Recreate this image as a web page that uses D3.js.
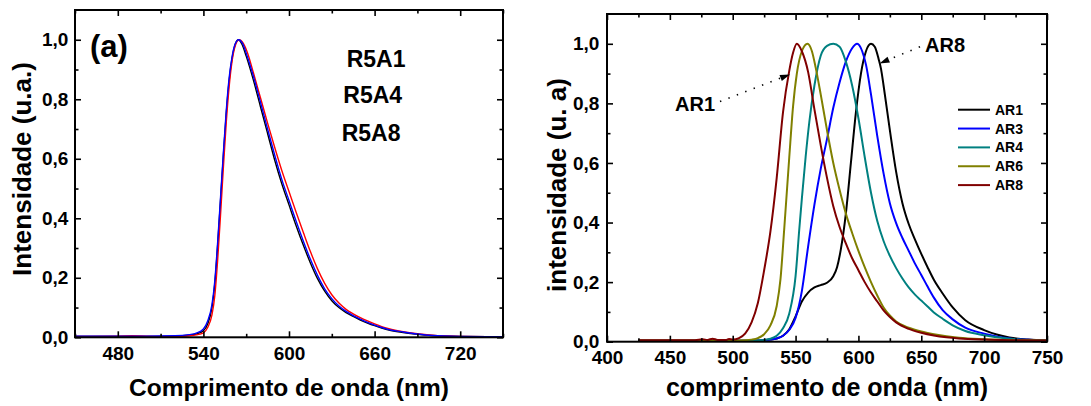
<!DOCTYPE html>
<html>
<head>
<meta charset="utf-8">
<script src="https://cdn.jsdelivr.net/npm/d3@7"></script>
<style>
  html, body { margin: 0; padding: 0; background: #fff; }
  svg { display: block; }
  text { font-family: "Liberation Sans", Arial, sans-serif; font-weight: bold; fill: #000; }
</style>
</head>
<body>
<svg id="chart" width="1091" height="406"></svg>
<script>
// ---------- Panel (a): normalised emission of the R5 samples ----------
const leftSeriesNames = ["R5A1", "R5A4", "R5A8"];
const leftColors = ["#000000", "#ff0000", "#0000ff"]; // black, red, blue (draw order)

const r5a1 = [[450,0.003],[480,0.003],[500,0.003],[520,0.004],[530,0.007],[535,0.011],[540,0.022],[543,0.045],[546,0.1],[548,0.18],[550,0.31],[552,0.46],[554,0.61],[556,0.75],[558,0.86],[560,0.935],[562,0.98],[564.5,1.0],[567,0.985],[570,0.945],[575,0.865],[580,0.775],[585,0.685],[590,0.595],[595,0.515],[600,0.445],[605,0.375],[610,0.31],[615,0.25],[620,0.197],[625,0.155],[630,0.123],[635,0.1],[640,0.083],[645,0.07],[650,0.058],[655,0.048],[660,0.039],[665,0.031],[670,0.024],[680,0.016],[690,0.01],[700,0.006],[720,0.003],[750,0.002]];
const r5a4 = [[450,0.004],[480,0.004],[500,0.004],[520,0.005],[530,0.009],[535,0.014],[540,0.028],[543,0.055],[546,0.11],[548,0.19],[550,0.32],[552,0.47],[554,0.62],[556,0.76],[558,0.87],[560,0.94],[562,0.982],[564.7,1.0],[567.5,0.987],[570,0.955],[575,0.878],[580,0.79],[585,0.7],[590,0.612],[595,0.53],[600,0.46],[605,0.39],[610,0.324],[615,0.262],[620,0.208],[625,0.163],[630,0.13],[635,0.105],[640,0.087],[645,0.073],[650,0.061],[655,0.05],[660,0.041],[665,0.033],[670,0.026],[680,0.018],[690,0.011],[700,0.006],[720,0.003],[750,0.002]];
const r5a8 = [[450,0.003],[480,0.004],[490,0.005],[500,0.004],[520,0.003],[530,0.005],[535,0.008],[540,0.015],[543,0.033],[546,0.075],[548,0.14],[550,0.26],[552,0.41],[554,0.57],[556,0.72],[558,0.84],[560,0.925],[562,0.975],[565,1.0],[568,0.988],[571,0.955],[575,0.89],[580,0.805],[585,0.72],[590,0.638],[595,0.56],[600,0.49],[605,0.42],[610,0.353],[615,0.288],[620,0.23],[625,0.181],[630,0.143],[635,0.115],[640,0.094],[645,0.079],[650,0.066],[655,0.055],[660,0.045],[665,0.036],[670,0.029],[680,0.019],[690,0.012],[700,0.007],[720,0.003],[750,0.002]];

const leftXMajor = [480, 540, 600, 660, 720];
const leftXMinor = [450, 510, 570, 630, 690, 750];
const yMajor = [0, 0.2, 0.4, 0.6, 0.8, 1.0];
const yMinor = [0.1, 0.3, 0.5, 0.7, 0.9];

// ---------- Panel (b): normalised emission of the AR samples ----------
const rightSeriesNames = ["AR1", "AR3", "AR4", "AR6", "AR8"];
const rightColors = ["#000000", "#0000ff", "#008080", "#808000", "#800000"];

const ar1 = [[425,0.003],[510,0.003],[520,0.004],[530,0.007],[535,0.011],[540,0.02],[545,0.042],[550,0.085],[555,0.135],[560,0.165],[565,0.182],[570,0.19],[575,0.198],[580,0.22],[583,0.25],[586,0.31],[590,0.43],[594,0.6],[598,0.77],[602,0.9],[606,0.975],[610,1.0],[613,0.99],[616,0.95],[618,0.915],[620,0.86],[625,0.71],[630,0.57],[635,0.465],[640,0.395],[645,0.343],[650,0.295],[655,0.25],[660,0.208],[667,0.162],[675,0.115],[685,0.072],[700,0.039],[710,0.024],[720,0.014],[735,0.007],[750,0.004]];
const ar3 = [[425,0.003],[510,0.003],[520,0.004],[530,0.007],[535,0.011],[540,0.02],[545,0.04],[550,0.08],[555,0.17],[560,0.32],[565,0.46],[570,0.58],[575,0.68],[580,0.785],[585,0.87],[590,0.94],[595,0.985],[599,1.0],[603,0.975],[606,0.93],[610,0.83],[615,0.69],[620,0.565],[625,0.465],[630,0.398],[635,0.348],[640,0.305],[645,0.262],[650,0.224],[655,0.185],[660,0.148],[667,0.106],[675,0.075],[685,0.047],[700,0.027],[720,0.011],[750,0.004]];
const ar4 = [[425,0.003],[510,0.003],[520,0.004],[525,0.006],[530,0.01],[535,0.02],[540,0.045],[545,0.095],[550,0.22],[553,0.38],[555,0.48],[558,0.62],[561,0.74],[565,0.86],[570,0.96],[575,0.993],[580,1.0],[585,0.99],[590,0.94],[595,0.86],[600,0.75],[605,0.62],[610,0.5],[615,0.405],[620,0.338],[625,0.288],[630,0.247],[635,0.212],[640,0.182],[645,0.158],[650,0.138],[655,0.118],[660,0.098],[667,0.077],[675,0.055],[685,0.036],[700,0.022],[720,0.01],[750,0.004]];
const ar6 = [[425,0.004],[500,0.004],[510,0.005],[515,0.007],[520,0.012],[525,0.025],[530,0.055],[535,0.12],[538,0.21],[541,0.38],[545,0.62],[548,0.79],[551,0.9],[555,0.975],[559.5,1.0],[563,0.975],[566,0.92],[570,0.83],[575,0.71],[580,0.6],[585,0.51],[590,0.43],[595,0.365],[600,0.305],[605,0.25],[610,0.2],[615,0.155],[620,0.115],[625,0.088],[630,0.068],[640,0.047],[650,0.034],[660,0.025],[670,0.018],[680,0.013],[700,0.008],[720,0.005],[750,0.004]];
const ar8 = [[425,0.005],[450,0.005],[470,0.005],[476,0.008],[480,0.006],[484,0.01],[488,0.006],[495,0.006],[497,0.009],[500,0.007],[505,0.012],[510,0.028],[515,0.065],[520,0.13],[525,0.24],[530,0.37],[535,0.55],[540,0.77],[545,0.91],[548,0.97],[551,1.0],[555,0.975],[560,0.905],[565,0.78],[570,0.66],[575,0.55],[580,0.455],[585,0.385],[590,0.33],[595,0.28],[600,0.24],[605,0.2],[610,0.165],[615,0.135],[620,0.105],[625,0.083],[630,0.065],[640,0.043],[650,0.03],[660,0.021],[670,0.015],[680,0.011],[700,0.007],[720,0.005],[750,0.004]];

const rightXMajor = [400, 450, 500, 550, 600, 650, 700, 750];
const rightXMinor = [425, 475, 525, 575, 625, 675, 725];

const svg = d3.select("#chart");
svg.append("rect").attr("width", 1091).attr("height", 406).attr("fill", "#fff");

const commaFmt = d => d.toFixed(1).replace(".", ",");

function drawFrame(g, x, y, xMajor, xMinor, opts) {
  const [x0, x1] = x.range();
  const [y0, y1] = y.range(); // y0 bottom, y1 top
  const major = 6, minor = 3.5;

  g.append("g").attr("transform", `translate(0,${y0})`)
    .call(d3.axisBottom(x).tickValues(xMajor).tickSizeInner(-major).tickSizeOuter(0)
      .tickPadding(opts.xPad).tickFormat(d3.format("d")));
  g.append("g").attr("transform", `translate(0,${y0})`)
    .call(d3.axisBottom(x).tickValues(xMinor).tickSizeInner(-minor).tickSizeOuter(0).tickFormat(""));
  g.append("g").attr("transform", `translate(0,${y1})`)
    .call(d3.axisTop(x).tickValues(xMajor).tickSizeInner(-major).tickSizeOuter(0).tickFormat(""));
  g.append("g").attr("transform", `translate(0,${y1})`)
    .call(d3.axisTop(x).tickValues(xMinor).tickSizeInner(-minor).tickSizeOuter(0).tickFormat(""));

  g.append("g").attr("transform", `translate(${x0},0)`)
    .call(d3.axisLeft(y).tickValues(yMajor).tickSizeInner(-major).tickSizeOuter(0)
      .tickPadding(opts.yPad).tickFormat(commaFmt));
  g.append("g").attr("transform", `translate(${x0},0)`)
    .call(d3.axisLeft(y).tickValues(yMinor).tickSizeInner(-minor).tickSizeOuter(0).tickFormat(""));
  g.append("g").attr("transform", `translate(${x1},0)`)
    .call(d3.axisRight(y).tickValues(yMajor).tickSizeInner(-major).tickSizeOuter(0).tickFormat(""));
  g.append("g").attr("transform", `translate(${x1},0)`)
    .call(d3.axisRight(y).tickValues(yMinor).tickSizeInner(-minor).tickSizeOuter(0).tickFormat(""));

  g.selectAll(".domain").remove();
  g.selectAll(".tick line").attr("stroke", "#000").attr("stroke-width", 1.6);
  g.selectAll(".tick text")
    .style("font-family", '"Liberation Sans", Arial, sans-serif')
    .style("font-weight", "bold")
    .style("font-size", opts.tickFont + "px")
    .attr("fill", "#000");

  g.append("rect")
    .attr("x", x0).attr("y", y1)
    .attr("width", x1 - x0).attr("height", y0 - y1)
    .attr("fill", "none").attr("stroke", "#000").attr("stroke-width", 2);
}

function drawCurves(g, x, y, seriesList, colors, width) {
  const line = d3.line().x(d => x(d[0])).y(d => y(d[1])).curve(d3.curveMonotoneX);
  seriesList.forEach((s, i) => {
    g.append("path").datum(s)
      .attr("d", line)
      .attr("fill", "none")
      .attr("stroke", colors[i])
      .attr("stroke-width", width)
      .attr("stroke-linejoin", "round");
  });
}

// ---------- left panel ----------
const xL = d3.scaleLinear().domain([450, 750]).range([75, 503]);
const yL = d3.scaleLinear().domain([0, 1.1]).range([337.3, 10]);
const gL = svg.append("g");

const clipL = svg.append("clipPath").attr("id", "clipL");
clipL.append("rect").attr("x", 75).attr("y", 10).attr("width", 428).attr("height", 327.3);
drawCurves(gL.append("g").attr("clip-path", "url(#clipL)"), xL, yL, [r5a1, r5a8, r5a4], leftColors, 1.4);
drawFrame(gL, xL, yL, leftXMajor, leftXMinor, { xPad: 9.5, yPad: 6.7, tickFont: 19 });

gL.append("text").attr("x", 90).attr("y", 57).style("font-size", "31px").text("(a)");
const leftLabelPos = [[346.7, 66.7], [343.3, 103.3], [341.7, 141.2]];
leftSeriesNames.forEach((n, i) => {
  gL.append("text").attr("x", leftLabelPos[i][0]).attr("y", leftLabelPos[i][1])
    .style("font-size", "23px").text(n);
});

gL.append("text").attr("x", 289).attr("y", 396).attr("text-anchor", "middle")
  .style("font-size", "24.5px").text("Comprimento de onda (nm)");
gL.append("text").attr("transform", "translate(31,169) rotate(-90)").attr("text-anchor", "middle")
  .style("font-size", "26px").text("Intensidade (u.a.)");

// ---------- right panel ----------
const xR = d3.scaleLinear().domain([400, 750]).range([607, 1047]);
const yR = d3.scaleLinear().domain([0, 1.1]).range([341.7, 14]);
const gR = svg.append("g");

const clipR = svg.append("clipPath").attr("id", "clipR");
clipR.append("rect").attr("x", 607).attr("y", 14).attr("width", 440).attr("height", 327.7);
drawCurves(gR.append("g").attr("clip-path", "url(#clipR)"), xR, yR, [ar1, ar3, ar4, ar6, ar8], rightColors, 2);
drawFrame(gR, xR, yR, rightXMajor, rightXMinor, { xPad: 9, yPad: 7.7, tickFont: 19 });

// legend
const legend = gR.append("g");
rightSeriesNames.forEach((n, i) => {
  const ly = 109.7 + i * 18.85;
  legend.append("line").attr("x1", 958).attr("x2", 990).attr("y1", ly).attr("y2", ly)
    .attr("stroke", rightColors[i]).attr("stroke-width", 2);
  legend.append("text").attr("x", 995).attr("y", ly + 5).style("font-size", "14px").text(n);
});

// pointer annotations
function pointer(g, from, tip) {
  const dx = tip[0] - from[0], dy = tip[1] - from[1];
  const len = Math.hypot(dx, dy);
  const ux = dx / len, uy = dy / len;
  const headLen = 10, headHalf = 3.2;
  const bx = tip[0] - ux * headLen, by = tip[1] - uy * headLen;
  g.append("line").attr("x1", from[0]).attr("y1", from[1]).attr("x2", bx).attr("y2", by)
    .attr("stroke", "#000").attr("stroke-width", 1.6)
    .attr("stroke-dasharray", "1.4 7.6").attr("stroke-linecap", "butt");
  g.append("path")
    .attr("d", `M${tip[0]},${tip[1]} L${bx - uy * headHalf},${by + ux * headHalf} L${bx + uy * headHalf},${by - ux * headHalf} Z`)
    .attr("fill", "#000");
}
gR.append("text").attr("x", 675).attr("y", 111).style("font-size", "20px").text("AR1");
pointer(gR, [720, 101.5], [790, 74.5]);
gR.append("text").attr("x", 925).attr("y", 51.7).style("font-size", "20px").text("AR8");
pointer(gR, [920, 46.7], [879.5, 63.5]);

gR.append("text").attr("x", 827).attr("y", 396).attr("text-anchor", "middle")
  .style("font-size", "25px").text("comprimento de onda (nm)");
gR.append("text").attr("transform", "translate(566,185) rotate(-90)").attr("text-anchor", "middle")
  .style("font-size", "26px").text("intensidade (u. a)");
</script>
</body>
</html>
